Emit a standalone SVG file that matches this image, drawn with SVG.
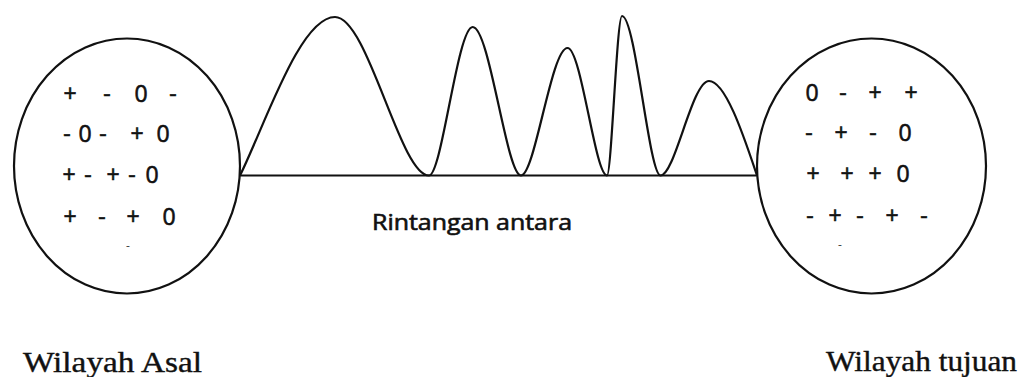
<svg xmlns="http://www.w3.org/2000/svg" width="1019" height="377" viewBox="0 0 1019 377">
  <style>
    .region { fill: none; stroke: #111; stroke-width: 2.2; }
    .line { fill: none; stroke: #111; stroke-width: 1.8; }
    .wave { fill: none; stroke: #111; stroke-width: 2.2; stroke-linejoin: round; }
    .sym { font-family: "Open Sans", "Liberation Sans", sans-serif; font-size: 23px; fill: #111; stroke: #111; stroke-width: 0.6; text-anchor: middle; }
    .tiny { font-family: "Open Sans", "Liberation Sans", sans-serif; font-size: 12px; fill: #444; text-anchor: middle; }
    .label { font-family: "Liberation Serif", "DejaVu Serif", serif; font-size: 30px; fill: #111; stroke: #111; stroke-width: 0.4; }
    .mid { font-family: "Open Sans", "Liberation Sans", sans-serif; font-size: 21px; fill: #111; stroke: #111; stroke-width: 0.6; }
  </style>
  <rect width="1019" height="377" fill="#ffffff"/>

  <g id="connectors">
    <line class="line" x1="240" y1="175.5" x2="757" y2="175.5"/>
    <path class="wave" d="M240,175.5 C265,125 300,17 335,17 C368,17 400,175.5 429,175.5 C442,175.5 457.4,27 472.7,27 C489.6,27 506.5,175.5 521,175.5 C535,175.5 551.2,48 567.5,48 C581.3,48 595,175.5 607,175.5 C611.5,175.5 616.8,16 622,16 C635.5,16 649,175.5 660.5,175.5 C675,175.5 692,81 709,81 C726,81 745,140 757,175.5"/>
  </g>

  <g id="node-asal">
    <ellipse class="region" cx="127" cy="166" rx="113" ry="127.5"/>
    <text class="sym" x="70 107 141 173" y="102">+-0-</text>
    <text class="sym" x="67 85 103 137 163" y="142">-0-+0</text>
    <text class="sym" x="69 88 113 132 152" y="183">+-+-0</text>
    <text class="sym" x="70 102 133 169" y="225">+-+0</text>
    <text class="tiny" x="128" y="250">-</text>
    <text class="label" x="23" y="372" textLength="179" lengthAdjust="spacingAndGlyphs">Wilayah Asal</text>
  </g>

  <g id="node-tujuan">
    <ellipse class="region" cx="871.5" cy="166" rx="114.5" ry="127.5"/>
    <text class="sym" x="812 843 875 911" y="101">0-++</text>
    <text class="sym" x="809 841 873 905" y="141">-+-0</text>
    <text class="sym" x="813 847 875 903" y="182">+++0</text>
    <text class="sym" x="810 835 860 892 924" y="224">-+-+-</text>
    <text class="tiny" x="840" y="249">-</text>
    <text class="label" x="826" y="371" textLength="191" lengthAdjust="spacingAndGlyphs">Wilayah tujuan</text>
  </g>

  <g id="node-rintangan">
    <text class="mid" x="372" y="230" textLength="200" lengthAdjust="spacingAndGlyphs">Rintangan antara</text>
  </g>
</svg>
